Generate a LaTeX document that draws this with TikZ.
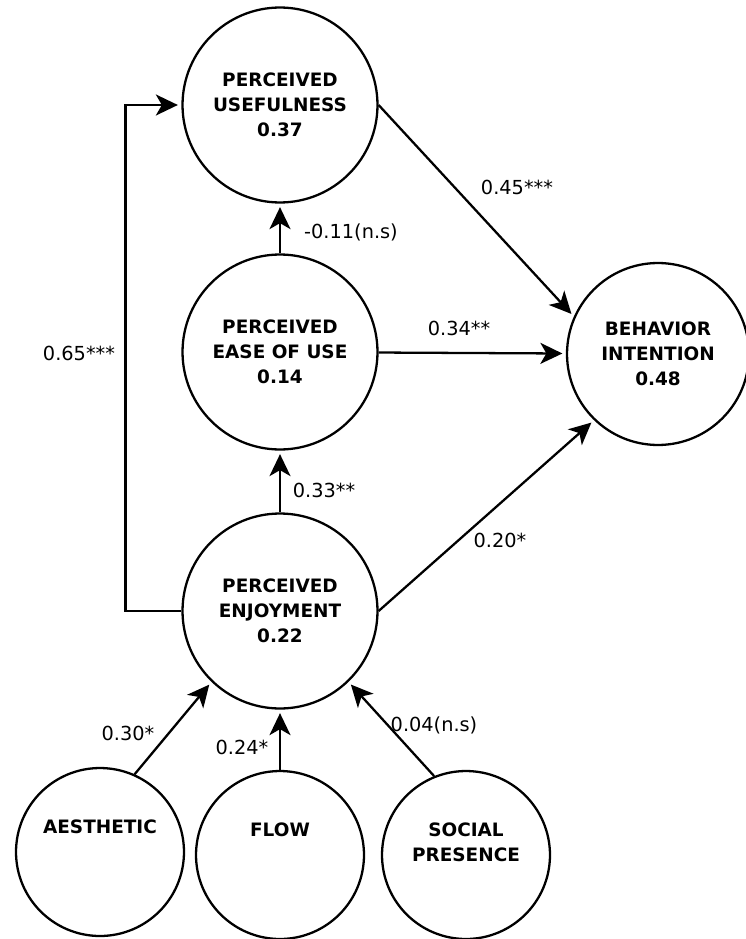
\documentclass[tikz,border=0pt]{standalone}
\usepackage{fontspec}
\setmainfont{DejaVu Sans}
\usetikzlibrary{arrows.meta}
\tikzset{
>={Stealth[length=4.4mm,width=4.2mm,inset=1.2mm]},
  construct/.style={
    circle,
    draw=black, line width=1.3pt,
    minimum size=3.9cm,
    inner sep=0pt,
    align=center,
    font=\bfseries\fontsize{10.5}{14.2}\selectfont},
  link/.style={draw, line width=1.3pt, ->, shorten >=2pt},
  coef/.style={font=\fontsize{11}{13}\selectfont, inner sep=1pt},
}
\begin{document}
\begin{tikzpicture}[x=0.02cm, y=-0.02cm]
     \useasboundingbox (0,0) rectangle (746,939);
     \node[construct] (PU)   at (280,105) {PERCEIVED\\USEFULNESS\\0.37};
     \node[construct] (PEOU) at (280,352) {PERCEIVED\\EASE OF USE\\0.14};
     \node[construct] (PE)   at (280,611) {PERCEIVED\\ENJOYMENT\\0.22};
     \node[construct, minimum size=3.64cm] (BI) at (658,354) {BEHAVIOR\\INTENTION\\0.48};
     \node[construct, minimum size=3.36cm] (AE) at (100,852) {AESTHETIC\\~\\~};
     \node[construct, minimum size=3.36cm] (FL) at (280,855) {FLOW\\~\\~};
     \node[construct, minimum size=3.36cm] (SP) at (466,855) {SOCIAL\\PRESENCE\\~};
     % paths
     \draw[link] (PEOU) -- (PU);
     \draw[link] (PE) -- (PEOU);
     \draw[link] (PU.east) -- (BI.156);
     \draw[link] (PEOU) -- (BI);
     \draw[link] (PE.east) -- (BI.226);
     \draw[link] (PE.west) -- ++(-56,0) |- (PU.west);
     \draw[link] (AE.66) -- (PE.226);
     \draw[link] (FL) -- (PE);
     \draw[link] (SP.112) -- (PE.314);
     % coefficients
     \node[coef] (cPUBI)   at (517,187) {0.45***};
     \node[coef] (cPEOUPU) at (351,232) {-0.11(n.s)};
     \node[coef] (cPEOUBI) at (459,328) {0.34**};
     \node[coef] (cPEPEOU) at (324,490) {0.33**};
     \node[coef] (cPEBI)   at (500,540) {0.20*};
     \node[coef] (cPEPU)   at (79,353)  {0.65***};
     \node[coef] (cAEPE)   at (128,733) {0.30*};
     \node[coef] (cFLPE)   at (242,747) {0.24*};
     \node[coef] (cSPPE)   at (434,725) {0.04(n.s)};
\end{tikzpicture}
\end{document}
